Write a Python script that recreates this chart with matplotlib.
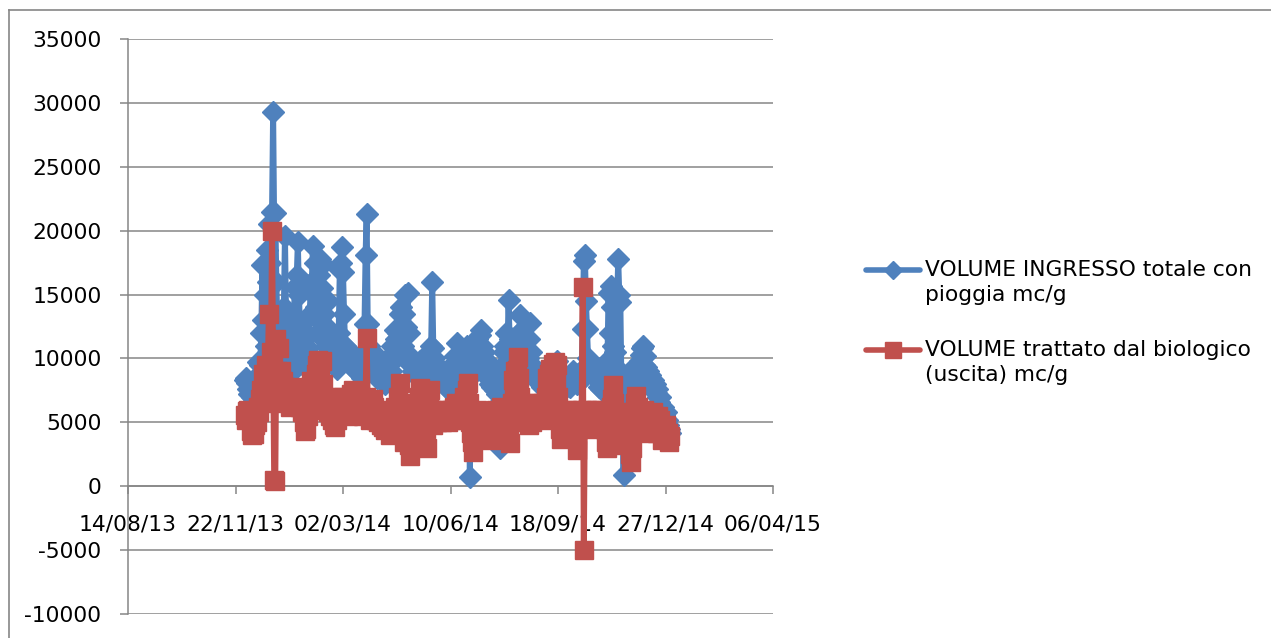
import numpy as np
import matplotlib
matplotlib.use("Agg")
import matplotlib.pyplot as plt
import matplotlib.dates as mdates
from matplotlib.lines import Line2D

# giorni di misura: dal 01/12/2013 al 31/12/2014
giorni = np.arange(np.datetime64("2013-12-01"), np.datetime64("2015-01-01"))

# VOLUME INGRESSO totale con pioggia (mc/g), un valore per giorno, mese per mese
ingresso_dic13 = [8300, 8500, 8100, 7600, 7200, 7800, 7000, 7400, 6800, 7200, 7900, 8200, 9700, 8800, 9500, 12000,
                  17300, 13000, 15000, 11000, 18500, 16000, 20500, 17500, 14000, 21500, 29300, 20000, 21400, 16000, 12500]
ingresso_gen14 = [11500, 10000, 9500, 12000, 11000, 14000, 19600, 13500, 11000, 10000, 9500, 8800, 10500, 12000, 11000, 15600,
                  13000, 16500, 19100, 15000, 12500, 11000, 10500, 9500, 10000, 11500, 12000, 10800, 9800, 13500, 15500]
ingresso_feb14 = [16000, 18800, 15000, 17500, 14000, 12000, 13000, 16500, 17800, 15500, 17400, 13500, 12000, 11000,
                  12500, 14500, 12000, 10500, 11000, 9800, 9500, 10200, 9800, 9200, 10500, 12000, 16900, 17500]
ingresso_mar14 = [18700, 16800, 13500, 11000, 10500, 10800, 9800, 10200, 9500, 10000, 9800, 9200, 9500, 9000, 9700, 10000,
                  9400, 8800, 9200, 8500, 9300, 12700, 18100, 21300, 12700, 11000, 10000, 9500, 9000, 10500, 9600]
ingresso_apr14 = [9800, 8800, 8500, 9000, 8600, 8300, 8800, 8200, 8600, 8000, 8400, 9200, 8700, 9500, 10000,
                  9000, 11000, 10500, 12200, 11500, 10200, 12000, 11500, 13500, 14000, 12500, 11000, 13500, 15000, 12500]
ingresso_mag14 = [15100, 12000, 10200, 9500, 9800, 9000, 8800, 9500, 8700, 9200, 8600, 9000, 9800, 8800, 9300, 8500,
                  9000, 8300, 8800, 9500, 10500, 9800, 11000, 16000, 10800, 10000, 9200, 9500, 8800, 9000, 8500]
ingresso_giu14 = [8800, 8200, 8600, 8000, 8400, 7800, 8200, 7600, 8000, 7500, 8200, 8800, 9500, 10200, 9800,
                  11200, 9500, 8800, 9200, 8500, 8800, 9200, 9800, 10500, 11000, 10200, 8500, 700, 9800, 10800]
ingresso_lug14 = [11200, 9500, 10500, 9000, 11500, 10800, 11800, 12200, 11000, 9800, 10500, 9500, 8800, 9800, 8500, 9200,
                  8000, 8800, 7800, 8500, 7500, 8200, 7200, 7800, 6500, 3000, 7500, 8500, 9500, 10500, 11000]
ingresso_ago14 = [12000, 10500, 14600, 11500, 10000, 9500, 10800, 9800, 9200, 10500, 11800, 10000, 12000, 13400, 11000, 9800,
                  10500, 9200, 8800, 9500, 10000, 11500, 12800, 10500, 9500, 9000, 8500, 9200, 8800, 8300, 8800]
ingresso_set14 = [8200, 8600, 7800, 8400, 8000, 8800, 8200, 7600, 8300, 7900, 8500, 9000, 8700, 9200, 9600,
                  9300, 9800, 9000, 8500, 8200, 7800, 8000, 7500, 8200, 7800, 8500, 8000, 8400, 7800, 8600]
ingresso_ott14 = [8800, 9000, 8500, 8200, 8800, 8000, 8500, 8200, 9000, 8800, 12300, 17600, 18100, 14500, 12300, 10000,
                  9500, 9800, 9600, 9200, 8800, 9000, 8500, 8800, 8200, 7800, 8300, 7600, 8000, 8800, 9200]
ingresso_nov14 = [9500, 8800, 9800, 15100, 12000, 15700, 14000, 11000, 9500, 10500, 9000, 14300, 17800, 15000, 14400,
                  8000, 7200, 900, 8600, 8000, 7200, 7800, 6800, 7500, 7000, 6500, 7200, 7800, 8200, 9500]
ingresso_dic14 = [9000, 8200, 9800, 10300, 10800, 11000, 9500, 10200, 9300, 8600, 9000, 8300, 8700, 7900, 8300, 7600,
                  8000, 7300, 7600, 7000, 6600, 7000, 6300, 6000, 6200, 5600, 5800, 5200, 4800, 4500, 4200]

# VOLUME trattato dal biologico (uscita) (mc/g)
uscita_dic13 = [5600, 5200, 5900, 6000, 5400, 4300, 4000, 4600, 4100, 4800, 5500, 5000, 6200, 5800, 6800, 7500,
                6500, 8800, 7200, 9500, 8200, 9000, 13500, 8500, 10500, 20000, 9500, 500, 400, 11500, 9000]
uscita_gen14 = [10800, 8500, 9000, 7500, 8200, 7000, 7800, 6500, 7200, 6800, 7500, 6200, 7000, 6500, 7800, 6800,
                7200, 7500, 6600, 7000, 6200, 6800, 5800, 6400, 5000, 4300, 4500, 5500, 6800, 7500, 8200]
uscita_feb14 = [7000, 8000, 6500, 7500, 8800, 9500, 9900, 9200, 8500, 9800, 8000, 7000, 6500, 6000,
                6800, 5800, 6200, 5500, 6000, 5200, 5600, 4800, 4600, 5200, 5800, 6500, 6200, 7000]
uscita_mar14 = [6500, 7000, 6000, 6800, 5800, 6200, 5500, 6600, 7200, 6500, 7500, 6800, 6000, 6500, 7000, 7400,
                6200, 5800, 6800, 6000, 5500, 6200, 7000, 11600, 6500, 5800, 5200, 6000, 5500, 6800, 6200]
uscita_apr14 = [5800, 5200, 6000, 5000, 5500, 4800, 5300, 4600, 5000, 4400, 5200, 4800, 5600, 4500, 4000,
                5000, 4300, 5500, 6200, 5000, 4500, 7000, 6000, 8100, 6500, 5000, 4200, 3500, 4800, 5500]
uscita_mag14 = [4500, 3200, 2400, 3800, 4500, 5200, 4600, 6000, 5000, 5500, 6500, 7000, 7700, 6200, 5000, 4200,
                3600, 4500, 3000, 5200, 6500, 7500, 6000, 5500, 4800, 5200, 5800, 5000, 5500, 6000, 5200]
uscita_giu14 = [5500, 5000, 5800, 5200, 6000, 5400, 5800, 5000, 5600, 5200, 6000, 5500, 6200, 5800, 6500,
                6000, 5500, 5800, 5200, 5600, 6000, 6500, 7000, 6200, 7500, 8100, 6500, 5000, 4200, 3500]
uscita_lug14 = [2700, 4000, 5500, 5000, 6000, 5200, 4800, 5500, 4500, 5000, 5800, 5200, 4600, 3800, 4500, 5200,
                4800, 3600, 4500, 5000, 5500, 6000, 5200, 5600, 4800, 5200, 6200, 5500, 6000, 4500, 3800]
uscita_ago14 = [5000, 4200, 3800, 3400, 5500, 6500, 8300, 7500, 9000, 8000, 9100, 10100, 8500, 7000, 6000, 5500,
                6200, 5000, 5800, 6500, 5200, 4800, 5500, 6200, 5000, 5800, 6500, 6000, 5400, 6200, 5800]
uscita_set14 = [5500, 6000, 5200, 6500, 5800, 6200, 7000, 8500, 7500, 8800, 9200, 8000, 9600, 8500, 9700,
                8200, 9500, 7000, 5500, 4500, 3700, 4200, 5000, 5800, 5200, 6000, 5500, 4800, 5600, 5000]
uscita_ott14 = [5500, 6000, 5200, 4500, 3800, 2800, 4500, 5200, 5800, 6000, 15600, -5000, 5800, 5200, 6000, 5500,
                4800, 5200, 5800, 5000, 4500, 5200, 6000, 5500, 4800, 5000, 5600, 6000, 5200, 4600, 5500]
uscita_nov14 = [4500, 3500, 3000, 4200, 5000, 6200, 6800, 7900, 6500, 5500, 4500, 3200, 3800, 4500, 5200,
                4800, 5500, 5000, 4200, 5000, 5800, 4800, 3500, 2500, 1900, 3000, 4500, 5800, 6500, 7100]
uscita_dic14 = [6200, 5500, 4800, 5800, 5200, 4500, 6000, 5500, 4800, 5200, 4200, 5600, 5000, 4500, 5800, 5200,
                4600, 5000, 4200, 5500, 4800, 5200, 4400, 3600, 4600, 4000, 4800, 3800, 4200, 3500, 3900]

ingresso = (ingresso_dic13 + ingresso_gen14 + ingresso_feb14 + ingresso_mar14 + ingresso_apr14 + ingresso_mag14
            + ingresso_giu14 + ingresso_lug14 + ingresso_ago14 + ingresso_set14 + ingresso_ott14 + ingresso_nov14
            + ingresso_dic14)
uscita = (uscita_dic13 + uscita_gen14 + uscita_feb14 + uscita_mar14 + uscita_apr14 + uscita_mag14
          + uscita_giu14 + uscita_lug14 + uscita_ago14 + uscita_set14 + uscita_ott14 + uscita_nov14
          + uscita_dic14)

etichette = ["VOLUME INGRESSO totale con\npioggia mc/g",
             "VOLUME trattato dal biologico\n(uscita) mc/g"]
colori = ["#4F81BD", "#C0504D"]
grigio = "#868686"

plt.rcParams["font.family"] = ["DejaVu Sans"]
plt.rcParams["axes.unicode_minus"] = False

W, H = 1271, 638
fig = plt.figure(figsize=(W / 100, H / 100), dpi=100)
ax = fig.add_axes([128 / W, (H - 614) / H, (773 - 128) / W, (614 - 39) / H])

x = mdates.date2num(giorni)
ax.plot(x, ingresso, color=colori[0], lw=4.3, marker="D", ms=11, mec=colori[0], zorder=3,
        solid_joinstyle="round")
ax.plot(x, uscita, color=colori[1], lw=4.3, marker="s", ms=13.5, mec=colori[1], zorder=4,
        solid_joinstyle="round")

# asse x: tacche ogni 100 giorni
x0 = mdates.date2num(np.datetime64("2013-08-14"))
ax.set_xlim(x0, x0 + 600)
ax.set_xticks(x0 + np.arange(0, 601, 100))
ax.xaxis.set_major_formatter(mdates.DateFormatter("%d/%m/%y"))

ax.set_ylim(-10000, 35000)
ax.set_yticks(np.arange(-10000, 35001, 5000))
ax.yaxis.grid(True, color=grigio, lw=1.1)
ax.set_axisbelow(True)

for s in ["top", "right"]:
    ax.spines[s].set_visible(False)
ax.spines["left"].set_color(grigio)
ax.spines["left"].set_linewidth(1.1)
ax.spines["bottom"].set_position(("data", 0))
ax.spines["bottom"].set_color(grigio)
ax.spines["bottom"].set_linewidth(1.1)
ax.tick_params(axis="y", direction="out", length=6, width=1.1, color=grigio, pad=13, labelsize=15.7)
ax.tick_params(axis="x", direction="out", length=6, width=1.1, color=grigio, pad=14, labelsize=15.7)

# legenda disegnata a mano, con il simbolo allineato alla prima riga
for i, (lab, col, mk, ms) in enumerate(zip(etichette, colori, ["D", "s"], [9, 11])):
    yy = 1 - (270 + 80 * i) / H
    fig.add_artist(Line2D([866 / W, 920 / W], [yy, yy], color=col, lw=4,
                          solid_capstyle="round"))
    fig.add_artist(Line2D([893 / W], [yy], color=col, marker=mk, ms=ms, mec=col))
    fig.text(925 / W, yy + 10 / H, lab, fontsize=15.7, va="top", ha="left", linespacing=1.3)

# cornice esterna (lato sinistro e superiore)
fig.add_artist(Line2D([8.5 / W, 8.5 / W], [0, 1 - 9.5 / H], color=grigio, lw=1.2))
fig.add_artist(Line2D([8.5 / W, 1], [1 - 9.5 / H, 1 - 9.5 / H], color=grigio, lw=1.2))

fig.savefig("out.png", dpi=100)
